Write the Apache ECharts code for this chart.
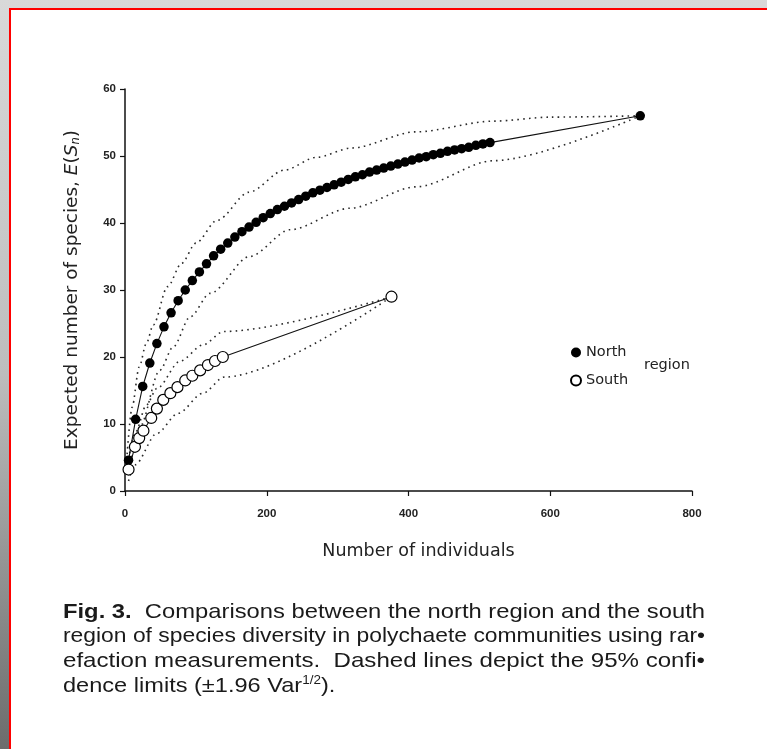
<!DOCTYPE html>
<html><head><meta charset="utf-8">
<script src="https://cdn.jsdelivr.net/npm/echarts@6/dist/echarts.min.js"></script>
<style>
html,body{margin:0;padding:0;width:767px;height:749px;overflow:hidden;background:linear-gradient(to bottom,#d9d9d9 0%,#bdbdbd 50%,#6c6c6c 100%);}
#frame{position:absolute;left:9px;top:8px;width:800px;height:800px;background:#fff;border-left:2px solid #f00;border-top:2px solid #f00;}
#chart{position:absolute;left:0;top:0;width:767px;height:749px;}
</style></head><body><div id="frame"></div><div id="chart"></div>
<script>
// ---- data ----
const xTicks = [0, 200, 400, 600, 800];
const yTicks = [0, 10, 20, 30, 40, 50, 60];

const northN = [5,15,25,35,45,55,65,75,85,95,105,115,125,135,145,155,165,175,185,195,205,215,225,235,245,255,265,275,285,295,305,315,325,335,345,355,365,375,385,395,405,415,425,435,445,455,465,475,485,495,505,515];
const northS = [4.6,10.7,15.6,19.1,22.0,24.5,26.6,28.4,30.0,31.4,32.7,33.9,35.1,36.1,37.0,37.9,38.7,39.4,40.1,40.8,41.4,42.0,42.5,43.0,43.5,44.0,44.5,44.9,45.3,45.7,46.1,46.5,46.9,47.2,47.6,47.9,48.2,48.5,48.8,49.1,49.4,49.7,49.9,50.2,50.4,50.7,50.9,51.1,51.3,51.6,51.8,52.0];
const northTotal = [727, 56];

const southN = [5,14,20,26,37,45,54,64,74,85,95,106,117,127,138];
const southS = [3.2,6.6,7.9,9.0,10.9,12.3,13.6,14.6,15.5,16.5,17.2,18.0,18.8,19.4,20.0];
const southTotal = [376, 29];

const northUpperN = [3,10,20,30,40,60,80,100,130,175,225,270,320,410,520,600,727];
const northUpperS = [5.5,12.5,18.5,22.0,24.8,30.5,34.0,37.0,40.4,44.6,47.9,49.8,51.2,53.6,55.2,55.8,56];
const northLowerN = [5,21,49,68,92,120,176,233,317,411,520,727];
const northLowerS = [2.5,9.6,18.0,21.5,26.0,29.5,35.0,39.0,42.2,45.4,49.3,56];

const southUpperN = [5,15,30,45,78,110,139,376];
const southUpperS = [4.8,8.8,12.8,15.3,19.4,21.8,23.8,29];
const southLowerN = [5,14,45,75,110,140,376];
const southLowerS = [1.5,3.9,8.6,11.6,14.6,17.0,29];

const captionLines = [
  ['Fig. 3.', '  Comparisons between the north region and the south'],
  ['', 'region of species diversity in polychaete communities using rar\u2022'],
  ['', 'efaction measurements.  Dashed lines depict the 95% confi\u2022'],
  ['', 'dence limits (\u00b11.96 Var', '1/2', ').']
];

// ---- helpers ----
const pairs = (xs, ys) => xs.map((x, i) => [x, ys[i]]);
const dotted = (xs, ys) => ({
  type: 'line', data: pairs(xs, ys), symbol: 'none', smooth: 0.3, smoothMonotone: 'x',
  lineStyle: { color: '#2a2a2a', width: 1.6, type: [1.6, 4.2] }, z: 1, silent: true
});

const chart = echarts.init(document.getElementById('chart'));

const ctx = document.createElement('canvas').getContext('2d');
function tw(font, t){ ctx.font = font; return ctx.measureText(t).width; }
const capSize = 21, capFam = '"Liberation Sans", Arial, sans-serif';
const capX = 63, capW = 642, capTop = 612, capStep = 24.7;
const scales = captionLines.map(l => {
  let w = tw('bold ' + capSize + 'px ' + capFam, l[0]) + tw(capSize + 'px ' + capFam, l[1]);
  if (l[2]) w += tw('12px ' + capFam, l[2]) + tw(capSize + 'px ' + capFam, l[3]);
  return capW / w;
});
const avgScale = (scales[0] + scales[1] + scales[2]) / 3;
const captionGraphics = captionLines.map((l, i) => {
  let txt = (l[0] ? '{b|' + l[0] + '}' : '') + '{r|' + l[1] + '}';
  if (l[2]) txt += '{s|' + l[2] + '}{r|' + l[3] + '}';
  return {
    type: 'text', x: capX, y: capTop + i * capStep, scaleX: i < 3 ? scales[i] : avgScale,
    style: {
      text: txt, align: 'left', verticalAlign: 'middle',
      rich: {
        b: { fontFamily: capFam, fontSize: capSize, fontWeight: 'bold', fill: '#1a1a1a', lineHeight: 23 },
        r: { fontFamily: capFam, fontSize: capSize, fill: '#1a1a1a', lineHeight: 23 },
        s: { fontFamily: capFam, fontSize: 12, fill: '#1a1a1a', verticalAlign: 'top', lineHeight: 23, padding: [0, 0, 9, 0] }
      }
    }
  };
});

const tickLabel = { fontFamily: '"Liberation Sans Narrow", "Liberation Sans", Arial', fontWeight: 'bold', fontSize: 11.5, color: '#222' };

const option = {
  animation: false,
  backgroundColor: 'transparent',
  grid: { left: 125, right: 75, top: 89, bottom: 258 },
  xAxis: {
    type: 'value', min: xTicks[0], max: xTicks[xTicks.length - 1], interval: xTicks[1] - xTicks[0],
    axisLine: { show: true, onZero: false, lineStyle: { color: '#111', width: 1.5 } },
    axisTick: { show: true, length: 5, lineStyle: { color: '#111', width: 1.2 } },
    splitLine: { show: false },
    axisLabel: Object.assign({ margin: 17 }, tickLabel),
    name: 'Number of individuals', nameLocation: 'middle', nameGap: 51,
    nameTextStyle: { fontFamily: '"DejaVu Sans"', fontSize: 17.5, color: '#222', padding: [0, 0, 0, 20] }
  },
  yAxis: {
    type: 'value', min: yTicks[0], max: yTicks[yTicks.length - 1], interval: yTicks[1] - yTicks[0],
    axisLine: { show: true, onZero: false, lineStyle: { color: '#111', width: 1.5 } },
    axisTick: { show: true, length: 5, lineStyle: { color: '#111', width: 1.2 } },
    splitLine: { show: false },
    axisLabel: Object.assign({ margin: 9 }, tickLabel),
    name: '{n|Expected number of species, }{i|E}{n|(}{i|S}{s|n}{n|)}',
    nameLocation: 'middle', nameRotate: 90, nameGap: 43,
    nameTextStyle: {
      rich: {
        n: { fontFamily: '"DejaVu Sans"', fontSize: 18.5, color: '#222' },
        i: { fontFamily: '"DejaVu Sans"', fontSize: 18.5, fontStyle: 'italic', color: '#222' },
        s: { fontFamily: '"DejaVu Sans"', fontSize: 11.5, fontStyle: 'italic', color: '#222', verticalAlign: 'bottom', padding: [6, 0, 0, 0] }
      }
    }
  },
  legend: {
    data: ['North', 'South'], orient: 'vertical', left: 565, top: 340,
    itemWidth: 10, itemHeight: 10, itemGap: 13,
    textStyle: { fontFamily: '"DejaVu Sans"', fontSize: 14.5, color: '#222' }
  },
  graphic: [
    { type: 'text', x: 644, y: 365, style: { text: 'region', fontFamily: '"DejaVu Sans"', fontSize: 14.5, fill: '#222', verticalAlign: 'middle' } }
  ].concat(captionGraphics),
  series: [
    dotted(northUpperN, northUpperS),
    dotted(northLowerN, northLowerS),
    dotted(southUpperN, southUpperS),
    dotted(southLowerN, southLowerS),
    { type: 'line', data: pairs(northN, northS).concat([northTotal]), symbol: 'none', lineStyle: { color: '#111', width: 1.1 }, z: 2, silent: true },
    { type: 'line', data: pairs(southN, southS).concat([southTotal]), symbol: 'none', lineStyle: { color: '#111', width: 1.1 }, z: 2, silent: true },
    { type: 'scatter', name: 'North', data: pairs(northN, northS).concat([northTotal]), symbol: 'circle', symbolSize: 9.5, itemStyle: { color: '#000', opacity: 1 }, z: 3 },
    { type: 'scatter', name: 'South', data: pairs(southN, southS).concat([southTotal]), symbol: 'circle', symbolSize: 11, itemStyle: { color: '#fff', borderColor: '#000', borderWidth: 1.2, opacity: 1 }, z: 4 }
  ]
};
chart.setOption(option);
</script></body></html>
